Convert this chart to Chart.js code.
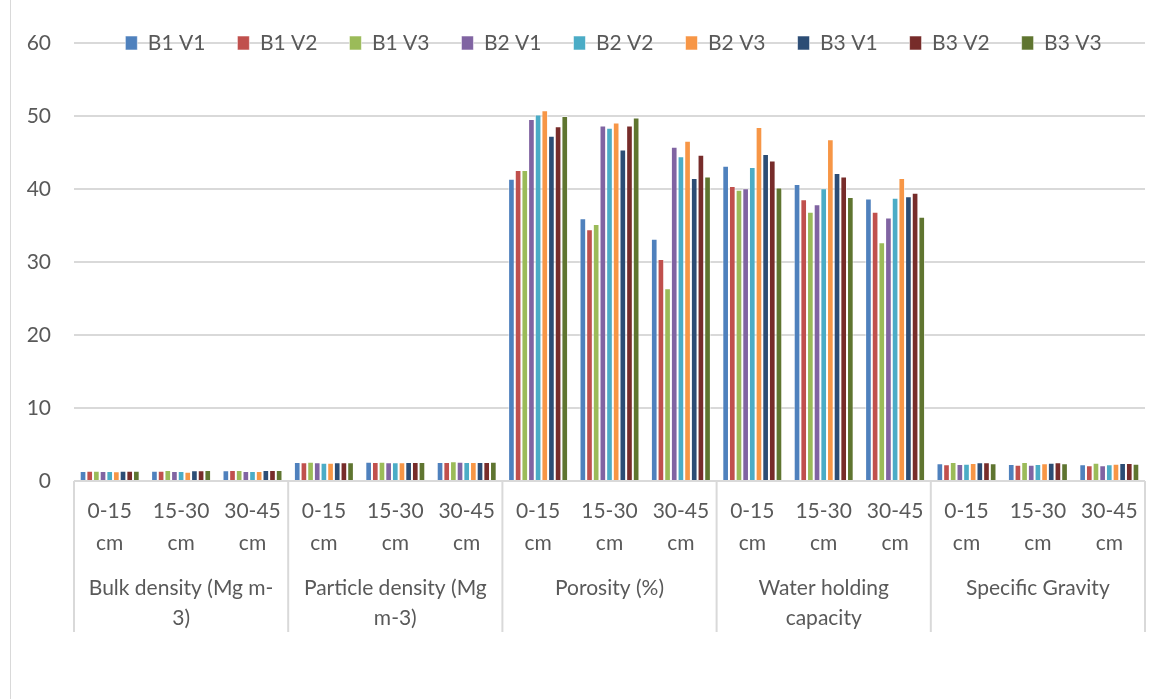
<!DOCTYPE html>
<html>
<head>
<meta charset="utf-8">
<script src="https://cdn.jsdelivr.net/npm/chart.js@4.4.1/dist/chart.umd.min.js"></script>
<style>
  body { margin: 0; background: #fff; }
  #wrap { position: relative; width: 1161px; height: 699px; }
  #frame { position: absolute; left: 10px; top: 0; width: 1px; height: 699px; background: #d9d9d9; }
</style>
</head>
<body>
<div id="wrap">
  <div id="frame"></div>
  <canvas id="soilChart"></canvas>
</div>
<script>
const depths = [['0-15', 'cm'], ['15-30', 'cm'], ['30-45', 'cm']];
const groups = [
    ['Bulk density (Mg m-', '3)'],
    ['Particle density (Mg', 'm-3)'],
    ['Porosity (%)'],
    ['Water holding', 'capacity'],
    ['Specific Gravity']
];
const categories = groups.flatMap(() => depths);

const seriesNames = ['B1 V1', 'B1 V2', 'B1 V3', 'B2 V1', 'B2 V2', 'B2 V3', 'B3 V1', 'B3 V2', 'B3 V3'];
const colors = ['#4F81BD', '#C0504D', '#9BBB59', '#8064A2', '#4BACC6', '#F79646', '#2C4D75', '#772C2A', '#5F7530'];

const b1v1 = [1.37, 1.41, 1.46, 2.60, 2.65, 2.60, 41.4, 36.0, 33.2, 43.2, 40.7, 38.7, 2.42, 2.33, 2.28];
const b1v2 = [1.41, 1.41, 1.50, 2.56, 2.60, 2.60, 42.6, 34.5, 30.4, 40.4, 38.6, 36.9, 2.28, 2.24, 2.15];
const b1v3 = [1.39, 1.50, 1.50, 2.65, 2.65, 2.69, 42.6, 35.2, 26.4, 39.9, 36.9, 32.7, 2.60, 2.60, 2.51];
const b2v1 = [1.37, 1.37, 1.37, 2.56, 2.56, 2.65, 49.6, 48.7, 45.8, 40.1, 37.9, 36.1, 2.33, 2.24, 2.15];
const b2v2 = [1.37, 1.37, 1.37, 2.51, 2.56, 2.60, 50.2, 48.4, 44.5, 43.0, 40.1, 38.8, 2.37, 2.33, 2.28];
const b2v3 = [1.32, 1.28, 1.37, 2.51, 2.56, 2.60, 50.8, 49.1, 46.6, 48.5, 46.8, 41.5, 2.46, 2.42, 2.37];
const b3v1 = [1.41, 1.46, 1.50, 2.56, 2.60, 2.60, 47.3, 45.4, 41.5, 44.8, 42.2, 39.0, 2.56, 2.51, 2.46];
const b3v2 = [1.41, 1.46, 1.50, 2.56, 2.60, 2.60, 48.6, 48.7, 44.7, 43.9, 41.7, 39.5, 2.56, 2.56, 2.46];
const b3v3 = [1.39, 1.50, 1.50, 2.56, 2.60, 2.65, 50.0, 49.8, 41.7, 40.2, 38.9, 36.2, 2.42, 2.42, 2.37];
const seriesData = [b1v1, b1v2, b1v3, b2v1, b2v2, b2v3, b3v1, b3v2, b3v3];

const gridGray = '#d9d9d9';
Chart.defaults.font.family = 'Lato, "Open Sans", sans-serif';
Chart.defaults.font.size = 21;
Chart.defaults.color = '#595959';

// legend sits on top of the 60 gridline, like Excel does it
const legendOverlay = {
    id: 'legendOverlay',
    beforeInit(chart) {
        const fit = chart.legend.fit;
        chart.legend.fit = function () {
            fit.call(this);
            this.height = 0;
        };
    },
    afterLayout(chart) {
        const lg = chart.legend;
        const pad = lg.options.labels.padding;
        lg.top = chart.chartArea.top - pad - 10.5;
        lg.bottom = chart.chartArea.top + 20;
        lg.height = lg.bottom - lg.top;
        lg.left += 4;
        lg.right += 4;
    }
};

// group separators below the axis
const groupLines = {
    id: 'groupLines',
    afterDraw(chart) {
        const { ctx, chartArea } = chart;
        const xs = chart.scales.x;
        const half = (xs.getPixelForValue(1) - xs.getPixelForValue(0)) / 2;
        ctx.save();
        ctx.strokeStyle = gridGray;
        ctx.lineWidth = 2;
        for (let i = 0; i <= groups.length; i++) {
            const x = i < groups.length
                ? xs.getPixelForValue(i * 3) - half
                : xs.getPixelForValue(categories.length - 1) + half;
            ctx.beginPath();
            ctx.moveTo(x, chartArea.bottom);
            ctx.lineTo(x, chartArea.bottom + 151);
            ctx.stroke();
        }
        ctx.restore();
    }
};

new Chart(document.getElementById('soilChart'), {
    type: 'bar',
    data: {
        labels: categories,
        datasets: seriesNames.map((name, i) => ({
            label: name,
            data: seriesData[i],
            backgroundColor: colors[i],
            borderColor: 'rgba(255,255,255,0.55)',
            borderWidth: 1,
            categoryPercentage: 0.84,
            barPercentage: 1
        }))
    },
    options: {
        responsive: true,
        maintainAspectRatio: false,
        animation: false,
        layout: { padding: { top: 43, left: 0, right: 16, bottom: 48 } },
        plugins: {
            tooltip: { enabled: false },
            legend: {
                position: 'top',
                fullSize: false,
                labels: { boxWidth: 12, boxHeight: 14, padding: 32, font: { size: 21 } }
            }
        },
        scales: {
            y: {
                min: 0,
                max: 60,
                z: -1,
                ticks: { stepSize: 10, padding: 23 },
                grid: { color: gridGray, lineWidth: 2, drawTicks: false },
                border: { display: false },
                afterFit(scale) { scale.width = 74; }
            },
            x: {
                ticks: { autoSkip: false, maxRotation: 0, padding: 14, font: { lineHeight: '32px' } },
                grid: { display: false, drawTicks: false },
                border: { display: false },
                afterFit(scale) { scale.height = 70; }
            },
            x2: {
                type: 'category',
                position: 'bottom',
                labels: groups,
                offset: true,
                ticks: { autoSkip: false, maxRotation: 0, padding: 22, font: { lineHeight: '30px' } },
                grid: { display: false, drawTicks: false },
                border: { display: false },
                afterFit(scale) { scale.height = 100; }
            }
        }
    },
    plugins: [legendOverlay, groupLines]
});
</script>
</body>
</html>
